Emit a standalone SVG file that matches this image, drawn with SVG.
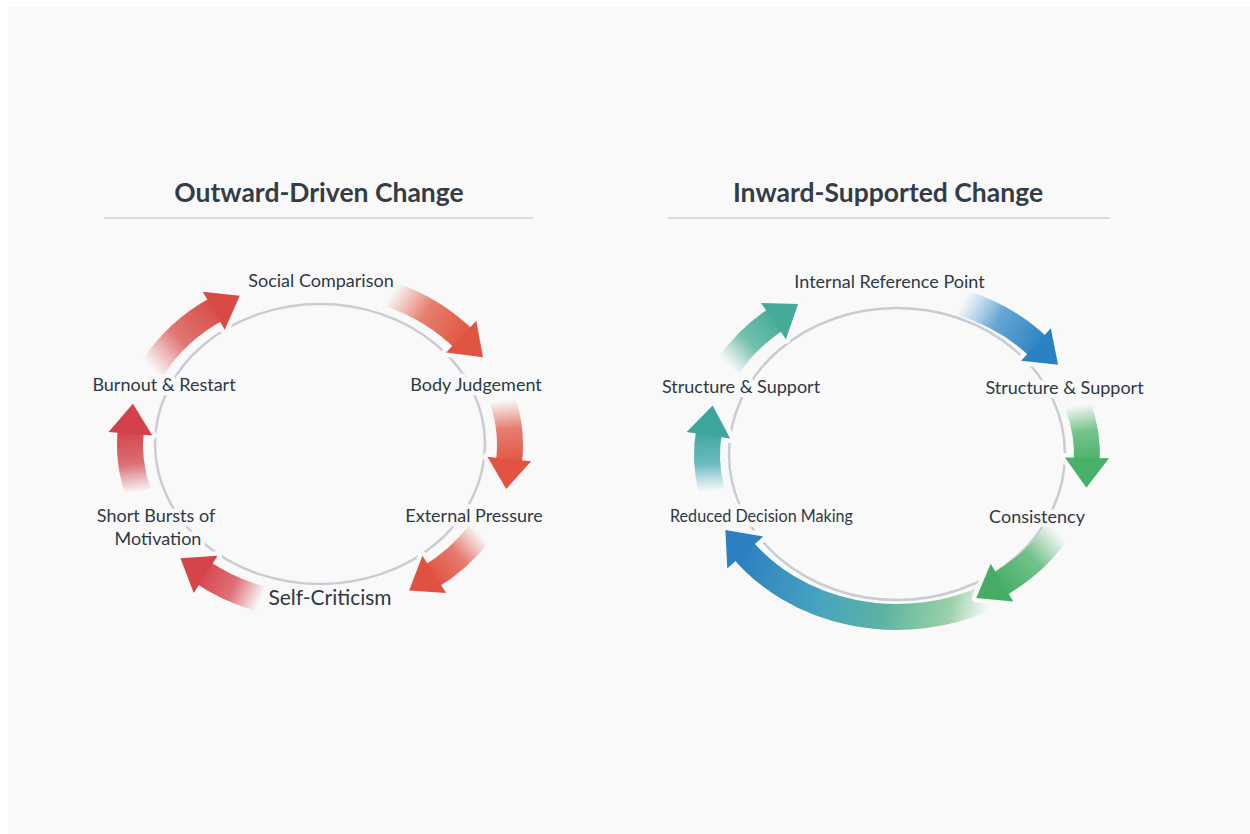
<svg xmlns="http://www.w3.org/2000/svg" width="1250" height="834" viewBox="0 0 1250 834">
<defs>
<style>
.title{font-family:Lato,"Liberation Sans",sans-serif;font-weight:700;font-size:26.5px;fill:#343d47;text-anchor:middle}
.lbl{font-family:Lato,"Liberation Sans",sans-serif;font-size:18px;fill:#2e3945;text-anchor:middle;stroke:#f9f9f9;stroke-width:9;stroke-linejoin:round;paint-order:stroke}
.rule{stroke:#cfcfcf;stroke-width:1.5}
.ring{fill:none;stroke:#c9cdd3;stroke-width:2.5}
.body{fill:none;stroke-width:26;stroke-linecap:butt}
.halo{fill:#f9f9f9;stroke:#f9f9f9;stroke-width:9;stroke-linejoin:round}
</style>
<linearGradient id="gL1" gradientUnits="userSpaceOnUse" x1="152.25" y1="368.94" x2="219.32" y2="307.62"><stop offset="0" stop-color="#d84a46" stop-opacity="0"/><stop offset="0.45" stop-color="#d84a46" stop-opacity="0.75"/><stop offset="1" stop-color="#d84a46"/></linearGradient>
<linearGradient id="gL2" gradientUnits="userSpaceOnUse" x1="391.17" y1="294.79" x2="465.54" y2="340.87"><stop offset="0" stop-color="#e0553f" stop-opacity="0"/><stop offset="0.45" stop-color="#e0553f" stop-opacity="0.75"/><stop offset="1" stop-color="#e0553f"/></linearGradient>
<linearGradient id="gL3" gradientUnits="userSpaceOnUse" x1="502.65" y1="400.35" x2="508.58" y2="464.75"><stop offset="0" stop-color="#e05542" stop-opacity="0"/><stop offset="0.45" stop-color="#e05542" stop-opacity="0.75"/><stop offset="1" stop-color="#e05542"/></linearGradient>
<linearGradient id="gL4" gradientUnits="userSpaceOnUse" x1="479.35" y1="533.23" x2="428.98" y2="577.71"><stop offset="0" stop-color="#df5140" stop-opacity="0"/><stop offset="0.45" stop-color="#df5140" stop-opacity="0.75"/><stop offset="1" stop-color="#df5140"/></linearGradient>
<linearGradient id="gL5" gradientUnits="userSpaceOnUse" x1="261.29" y1="599.08" x2="200.43" y2="570.89"><stop offset="0" stop-color="#d5434b" stop-opacity="0"/><stop offset="0.45" stop-color="#d5434b" stop-opacity="0.75"/><stop offset="1" stop-color="#d5434b"/></linearGradient>
<linearGradient id="gL6" gradientUnits="userSpaceOnUse" x1="138.30" y1="492.37" x2="131.04" y2="428.07"><stop offset="0" stop-color="#d3414a" stop-opacity="0"/><stop offset="0.45" stop-color="#d3414a" stop-opacity="0.75"/><stop offset="1" stop-color="#d3414a"/></linearGradient>
<linearGradient id="gR1" gradientUnits="userSpaceOnUse" x1="732.46" y1="374" x2="782.66" y2="325.63"><stop offset="0" stop-color="#5cb89c" stop-opacity="0"/><stop offset="0.45" stop-color="#52b29b" stop-opacity="0.8"/><stop offset="1" stop-color="#46aa98"/></linearGradient>
<linearGradient id="gR2" gradientUnits="userSpaceOnUse" x1="961.98" y1="302.77" x2="1040.39" y2="348.71"><stop offset="0" stop-color="#4a9ad0" stop-opacity="0"/><stop offset="0.45" stop-color="#3c90cb" stop-opacity="0.8"/><stop offset="1" stop-color="#2b82c2"/></linearGradient>
<linearGradient id="gR3" gradientUnits="userSpaceOnUse" x1="1077.71" y1="404.94" x2="1086.74" y2="463.48"><stop offset="0" stop-color="#55b772" stop-opacity="0"/><stop offset="0.45" stop-color="#55b772" stop-opacity="0.8"/><stop offset="1" stop-color="#48b068"/></linearGradient>
<linearGradient id="gR4" gradientUnits="userSpaceOnUse" x1="1061.54" y1="536" x2="1000.47" y2="590.87"><stop offset="0" stop-color="#55b772" stop-opacity="0"/><stop offset="0.45" stop-color="#50b46e" stop-opacity="0.8"/><stop offset="1" stop-color="#45ad65"/></linearGradient>
<linearGradient id="gR5" gradientUnits="userSpaceOnUse" x1="990" y1="600" x2="741" y2="548"><stop offset="0" stop-color="#7cc48e" stop-opacity="0"/><stop offset="0.15" stop-color="#78c28e" stop-opacity="0.75"/><stop offset="0.4" stop-color="#5cb3a2"/><stop offset="0.65" stop-color="#48a4bf"/><stop offset="1" stop-color="#2c7fc0"/></linearGradient>
<linearGradient id="gR6" gradientUnits="userSpaceOnUse" x1="711.87" y1="491.45" x2="709.34" y2="429.66"><stop offset="0" stop-color="#55b2c6" stop-opacity="0"/><stop offset="0.45" stop-color="#48aab2" stop-opacity="0.8"/><stop offset="1" stop-color="#3ea59a"/></linearGradient>
</defs>

<rect x="0" y="0" width="1250" height="834" fill="#ffffff"/>
<rect x="8" y="7" width="1242" height="827" fill="#f9f9f9"/>

<g id="headers">
<text class="title" x="319" y="202">Outward-Driven Change</text>
<line class="rule" x1="104" y1="218" x2="533" y2="218"/>
<text class="title" x="888" y="202">Inward-Supported Change</text>
<line class="rule" x1="668" y1="218" x2="1110" y2="218"/>
</g>

<g id="rings">
<ellipse class="ring" cx="320" cy="444" rx="165" ry="140"/>
<ellipse class="ring" cx="897" cy="454" rx="168" ry="146"/>
</g>

<g id="connectors">
<g id="a-l1"><polygon class="halo" points="224.72,329.77 202.78,291.63 239.76,295.74"/><path class="body" stroke="url(#gL1)" d="M152.25 368.94 A190 162 0 0 1 219.32 307.62"/><polygon fill="#d84a46" points="224.72,329.77 202.78,291.63 239.76,295.74"/></g>
<g id="a-l2"><polygon class="halo" points="446.06,352.58 476.32,320.64 482.97,357.24"/><path class="body" stroke="url(#gL2)" d="M391.17 294.79 A190 162 0 0 1 465.54 340.87"/><polygon fill="#e0553f" points="446.06,352.58 476.32,320.64 482.97,357.24"/></g>
<g id="a-l3"><polygon class="halo" points="487.39,456.87 531.17,461.37 506.22,488.96"/><path class="body" stroke="url(#gL3)" d="M502.65 400.35 A190 162 0 0 1 508.58 464.75"/><polygon fill="#e05542" points="487.39,456.87 531.17,461.37 506.22,488.96"/></g>
<g id="a-l4"><polygon class="halo" points="422.45,555.86 446.23,592.88 409.10,590.59"/><path class="body" stroke="url(#gL4)" d="M479.35 533.23 A190 162 0 0 1 428.98 577.71"/><polygon fill="#df5140" points="422.45,555.86 446.23,592.88 409.10,590.59"/></g>
<g id="a-l5"><polygon class="halo" points="217.55,555.86 193.77,592.88 180.42,558.15"/><path class="body" stroke="url(#gL5)" d="M261.29 599.08 A190 162 0 0 1 200.43 570.89"/><polygon fill="#d5434b" points="217.55,555.86 193.77,592.88 180.42,558.15"/></g>
<g id="a-l6"><polygon class="halo" points="152.39,435.49 108.53,431.89 132.91,403.79"/><path class="body" stroke="url(#gL6)" d="M138.30 492.37 A190 162 0 0 1 131.04 428.07"/><polygon fill="#d3414a" points="152.39,435.49 108.53,431.89 132.91,403.79"/></g>

<g id="a-r1" transform="translate(-4,-8)"><polygon class="halo" points="789.93,347.21 764.93,311.01 802.12,312.06"/><path class="body" stroke="url(#gR1)" d="M732.46 374 A190 162 0 0 1 782.66 325.63"/><polygon fill="#46aa98" points="789.93,347.21 764.93,311.01 802.12,312.06"/></g>
<g id="a-r2"><polygon class="halo" points="1021.12,360.76 1050.82,328.28 1058.11,364.76"/><path class="body" stroke="url(#gR2)" d="M961.98 302.77 A190 162 0 0 1 1040.39 348.71"/><polygon fill="#2b82c2" points="1021.12,360.76 1050.82,328.28 1058.11,364.76"/></g>
<g id="a-r3"><polygon class="halo" points="1064.96,457.38 1108.96,458.28 1086.35,487.82"/><path class="body" stroke="url(#gR3)" d="M1077.71 404.94 A190 162 0 0 1 1086.74 463.48"/><polygon fill="#48b068" points="1064.96,457.38 1108.96,458.28 1086.35,487.82"/></g>
<g id="a-r5"><polygon class="halo" points="763.25,536.6 727.29,568.38 725.40,530.01"/><path class="body" stroke="url(#gR5)" stroke-width="28" d="M986.20 598.03 A190 162 0 0 1 741.35 547.92"/><polygon fill="#2c7fc0" points="763.25,536.6 727.29,568.38 725.40,530.01"/></g>
<g id="a-r4" transform="translate(-4,-5)"><polygon class="halo" points="994.70,568.82 1017.26,606.60 980.22,603.09"/><path class="body" stroke="url(#gR4)" d="M1061.54 536 A190 162 0 0 1 1000.47 590.87"/><polygon fill="#45ad65" points="994.70,568.82 1017.26,606.60 980.22,603.09"/></g>
<g id="a-r6"><polygon class="halo" points="730.2,438.39 686.64,432.11 712.70,405.56"/><path class="body" stroke="url(#gR6)" d="M711.87 491.45 A190 162 0 0 1 709.34 429.66"/><polygon fill="#3ea59a" points="730.2,438.39 686.64,432.11 712.70,405.56"/></g>
</g>

<g id="n-social"><text class="lbl" x="321" y="287">Social Comparison</text></g>
<g id="n-body"><text class="lbl" x="476" y="391">Body Judgement</text></g>
<g id="n-external"><text class="lbl" x="474" y="522">External Pressure</text></g>
<g id="n-selfcrit"><text class="lbl" x="330" y="605" style="font-size:21px">Self-Criticism</text></g>
<g id="n-bursts"><text class="lbl" x="156" y="522">Short Bursts of</text><text class="lbl" x="158" y="545">Motivation</text></g>
<g id="n-burnout"><text class="lbl" x="164" y="391">Burnout &amp; Restart</text></g>

<g id="n-internal"><text class="lbl" x="889.5" y="288">Internal Reference Point</text></g>
<g id="n-struct-r"><text class="lbl" x="1064.5" y="394">Structure &amp; Support</text></g>
<g id="n-consistency"><text class="lbl" x="1037" y="523">Consistency</text></g>
<g id="n-reduced"><text class="lbl" x="761.5" y="522" style="font-size:17.5px" textLength="183" lengthAdjust="spacingAndGlyphs">Reduced Decision Making</text></g>
<g id="n-struct-l"><text class="lbl" x="741" y="393">Structure &amp; Support</text></g>
</svg>
